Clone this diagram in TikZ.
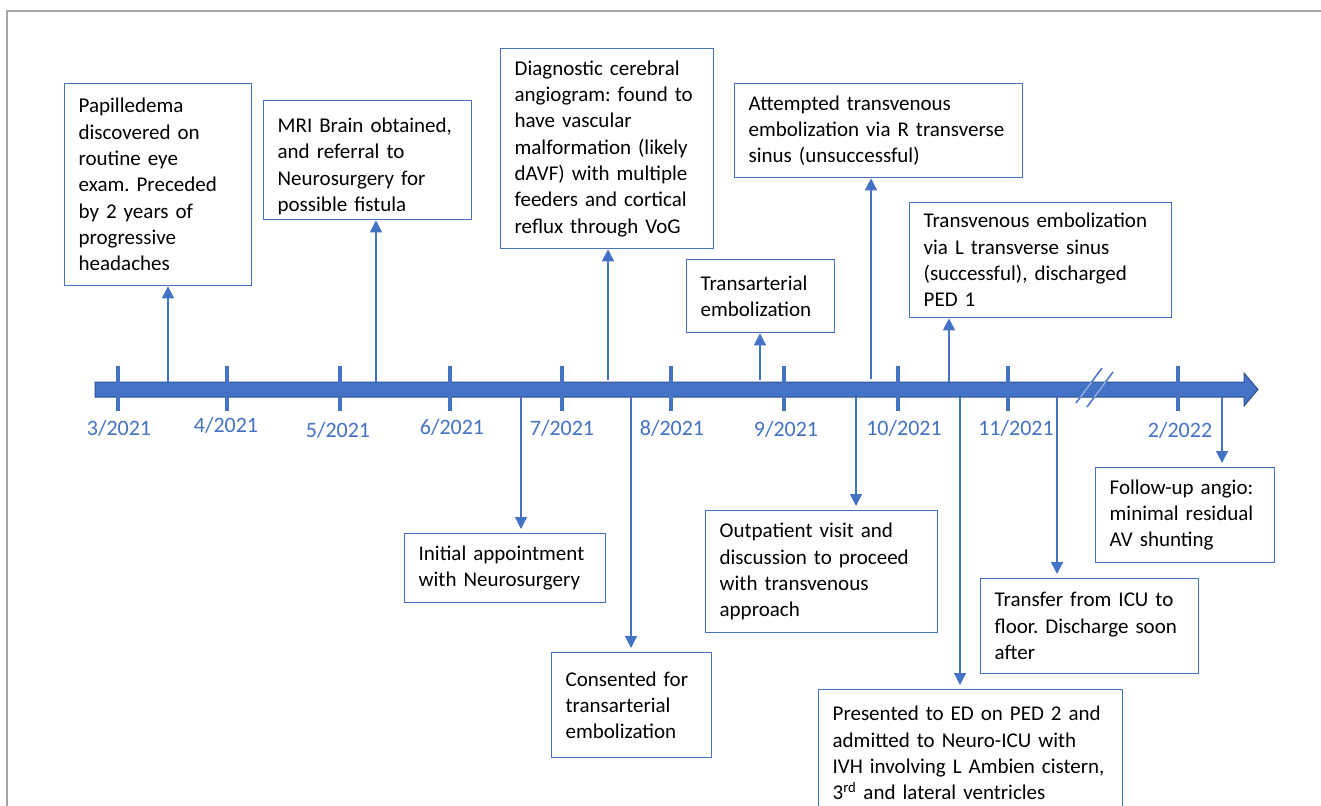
\documentclass[tikz,border=0pt]{standalone}
\usepackage{fontspec}
\setmainfont{Carlito}
\usetikzlibrary{arrows.meta}
\definecolor{mblue}{HTML}{4472C4}
\definecolor{dblue}{HTML}{2F528F}
\definecolor{lblue}{HTML}{9DB5E3}
\definecolor{framegray}{HTML}{A6A6A6}
\begin{document}
\frenchspacing
\begin{tikzpicture}[x=1pt,y=-1pt,
  box/.style={draw=mblue, line width=1.3pt, fill=white, inner xsep=14pt, inner ysep=0pt,
    align=left, anchor=north west, font=\fontsize{21}{26.3}\selectfont, text=black},
  conn/.style={draw=mblue, line width=1.2pt, -{Triangle[width=12pt,length=12pt]}},
  connd/.style={conn, shorten >=4pt},
  datelbl/.style={font=\fontsize{22}{26}\selectfont, text=mblue, anchor=base, inner sep=0pt},
  tickmark/.style={draw=mblue, line width=4.5pt},
  breakmark/.style={draw=mblue, line width=1.5pt}]
\useasboundingbox (0,0) rectangle (1321,805);
\fill[white] (0,0) rectangle (1321,805);
% frame
\draw[framegray, line width=1.5pt] (7,806) -- (7,11) -- (1322,11);

% axis
\draw[fill=mblue, draw=dblue, line width=1pt]
  (95,382) -- (1244,382) -- (1244,373) -- (1258,389.5) -- (1244,406) -- (1244,397) -- (95,397) -- cycle;

% ticks
\foreach \x in {118,227,340,450,562,671,784,898,1008,1178}
  \draw[tickmark] (\x,366) -- (\x,411);

% break marks
\draw[breakmark] (1076,403) -- (1102,368);
\draw[breakmark] (1087,407) -- (1113,372);
\begin{scope}
  \clip (1060,382.6) rectangle (1130,396.4);
  \draw[lblue, line width=1.2pt] (1076,403) -- (1102,368);
  \draw[lblue, line width=1.2pt] (1087,407) -- (1113,372);
\end{scope}

% date labels
\node[datelbl] (d1) at (119,435) {3/2021};
\node[datelbl] (d2) at (226,432) {4/2021};
\node[datelbl] (d3) at (338,437) {5/2021};
\node[datelbl] (d4) at (452,434) {6/2021};
\node[datelbl] (d5) at (562,435) {7/2021};
\node[datelbl] (d6) at (672,435) {8/2021};
\node[datelbl] (d7) at (786,436) {9/2021};
\node[datelbl] (d8) at (904,435) {10/2021};
\node[datelbl] (d9) at (1016,435) {11/2021};
\node[datelbl] (d10) at (1180,437) {2/2022};

% boxes above
\node[box, minimum width=187pt, minimum height=202pt, text width=159pt] (b1) at (64,83)
  {Papilledema\\discovered on\\routine eye\\exam. Preceded\\by 2 years of\\progressive\\headaches};
\node[box, minimum width=208pt, minimum height=119pt, text width=180pt] (b2) at (263,100)
  {\rule{0pt}{27pt}MRI Brain obtained,\\and referral to\\Neurosurgery for\\possible fistula};
\node[box, minimum width=213pt, minimum height=200pt, text width=185pt] (b3) at (500,48)
  {Diagnostic cerebral\\angiogram: found to\\have vascular\\malformation (likely\\dAVF) with multiple\\feeders and cortical\\reflux through VoG};
\node[box, minimum width=148pt, minimum height=73pt, text width=120pt] (b4) at (686,259)
  {Transarterial\\embolization};
\node[box, minimum width=288pt, minimum height=94pt, text width=260pt] (b5) at (734,83)
  {Attempted transvenous\\embolization via R transverse\\sinus (unsuccessful)};
\node[box, minimum width=262pt, minimum height=115pt, text width=234pt] (b6) at (909,202)
  {Transvenous embolization\\via L transverse sinus\\(successful), discharged\\PED 1};

% boxes below
\node[box, minimum width=201pt, minimum height=69pt, text width=173pt] (b7) at (404,533)
  {Initial appointment\\with Neurosurgery};
\node[box, minimum width=160pt, minimum height=105pt, text width=132pt] (b8) at (551,652)
  {Consented for\\transarterial\\embolization};
\node[box, minimum width=232pt, minimum height=122pt, text width=204pt] (b9) at (705,510)
  {Outpatient visit and\\discussion to proceed\\with transvenous\\approach};
\node[box, minimum width=304pt, minimum height=127pt, text width=276pt] (b10) at (818,689)
  {Presented to ED on PED 2 and\\admitted to Neuro-ICU with\\IVH involving L Ambien cistern,\\3\textsuperscript{rd} and lateral ventricles};
\node[box, minimum width=218pt, minimum height=95pt, text width=190pt] (b11) at (980,578)
  {Transfer from ICU to\\floor. Discharge soon\\after};
\node[box, minimum width=179pt, minimum height=95pt, text width=151pt] (b12) at (1095,467)
  {Follow-up angio:\\minimal residual\\AV shunting};

% axis anchor points
\coordinate (s1) at (168,382);
\coordinate (s2) at (376,382);
\coordinate (s3) at (608,380);
\coordinate (s4) at (760,380);
\coordinate (s5) at (871,379);
\coordinate (s6) at (949,382);
\coordinate (s7) at (521,397);
\coordinate (s8) at (631,397);
\coordinate (s9) at (856,397);
\coordinate (s10) at (960,397);
\coordinate (s11) at (1057,397);
\coordinate (s12) at (1222,397);

% connectors
\draw[conn] (s1) -- (s1 |- b1.south);
\draw[conn] (s2) -- (s2 |- b2.south);
\draw[conn] (s3) -- (s3 |- b3.south);
\draw[conn] (s4) -- (s4 |- b4.south);
\draw[conn] (s5) -- (s5 |- b5.south);
\draw[conn] (s6) -- (s6 |- b6.south);
\draw[connd] (s7) -- (s7 |- b7.north);
\draw[connd] (s8) -- (s8 |- b8.north);
\draw[connd] (s9) -- (s9 |- b9.north);
\draw[connd] (s10) -- (s10 |- b10.north);
\draw[connd] (s11) -- (s11 |- b11.north);
\draw[connd] (s12) -- (s12 |- b12.north);
\end{tikzpicture}
\end{document}
